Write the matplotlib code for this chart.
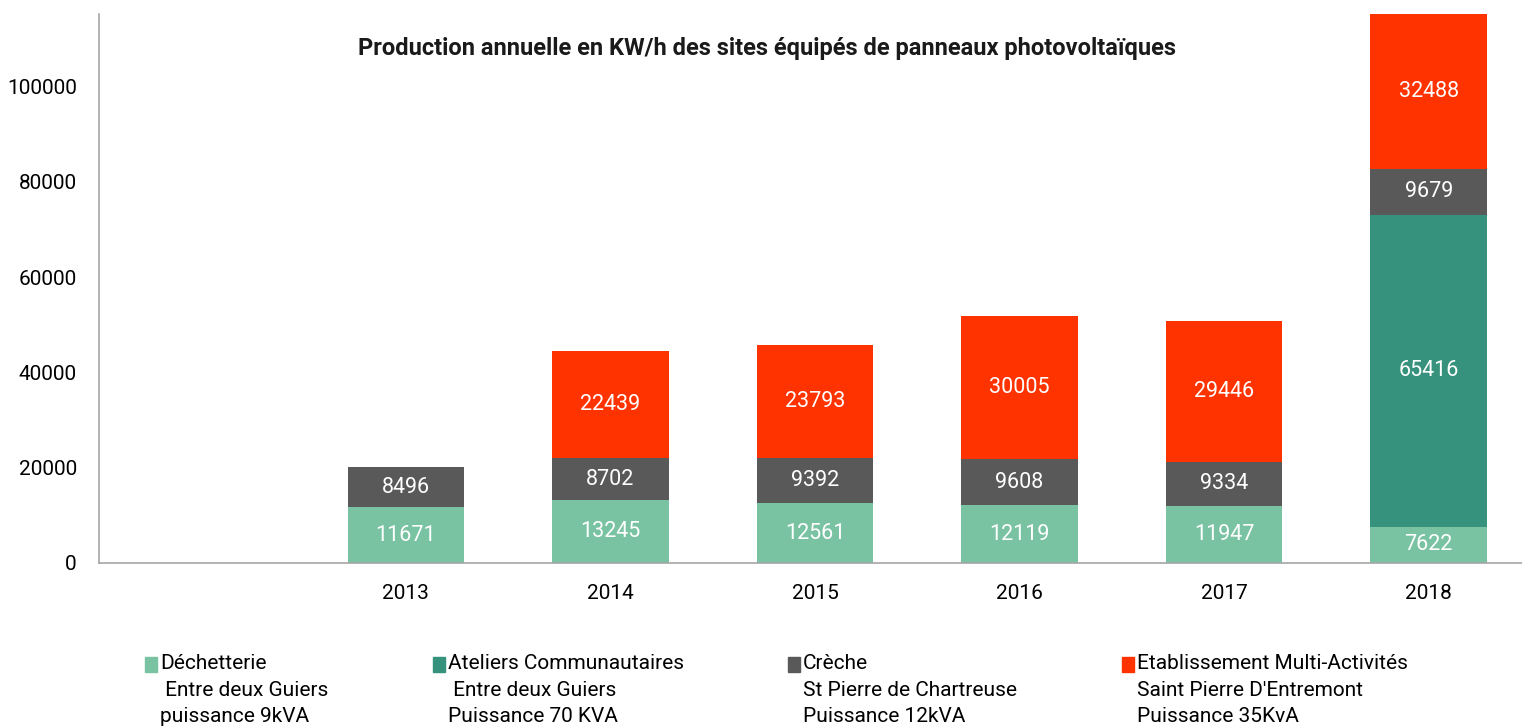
import matplotlib
matplotlib.use('Agg')
import matplotlib.pyplot as plt
from matplotlib.patches import Rectangle

# Données
annees = ['', '2013', '2014', '2015', '2016', '2017', '2018']
dechetterie = [0, 11671, 13245, 12561, 12119, 11947, 7622]
ateliers = [0, 0, 0, 0, 0, 0, 65416]
creche = [0, 8496, 8702, 9392, 9608, 9334, 9679]
etablissement = [0, 0, 22439, 23793, 30005, 29446, 32488]

series = [dechetterie, ateliers, creche, etablissement]
couleurs = ['#79C3A3', '#36927C', '#595959', '#FF3300']
legendes = [
    "Déchetterie\n Entre deux Guiers\npuissance 9kVA",
    "Ateliers Communautaires\n Entre deux Guiers\nPuissance 70 KVA",
    "Crèche\nSt Pierre de Chartreuse\nPuissance 12kVA",
    "Etablissement Multi-Activités\nSaint Pierre D'Entremont\nPuissance 35KvA",
]
titre = 'Production annuelle en KW/h des sites équipés de panneaux photovoltaïques'

plt.rcParams['font.family'] = ['Roboto', 'DejaVu Sans']

W, H = 1522, 728
fig = plt.figure(figsize=(W / 100, H / 100), dpi=100)
ax = fig.add_axes([99 / W, 1 - 563 / H, (1531 - 99) / W, (563 - 14) / H])

x = list(range(len(annees)))
bas = [0] * len(annees)
for vals, coul in zip(series, couleurs):
    ax.bar(x, vals, width=0.57, bottom=bas, color=coul, linewidth=0)
    for xi, v, b in zip(x, vals, bas):
        if v > 0:
            ax.text(xi, b + v / 2, str(v), ha='center', va='center',
                    color='white', fontsize=15.5)
    bas = [b + v for b, v in zip(bas, vals)]

ax.set_xlim(-0.5, len(annees) - 0.5)
ax.set_ylim(0, max(bas))
ax.set_yticks(range(0, 100001, 20000))
ax.set_xticks(x)
ax.set_xticklabels(annees)
ax.tick_params(axis='both', length=0, labelsize=15, colors='black')
ax.tick_params(axis='x', pad=15)
ax.tick_params(axis='y', pad=16)
for s in ['top', 'right']:
    ax.spines[s].set_visible(False)
for s in ['left', 'bottom']:
    ax.spines[s].set_color('#A6A6A6')
    ax.spines[s].set_linewidth(1.2)

fig.text(767 / W, 1 - 49 / H, titre, ha='center', va='center',
         fontsize=17, fontweight='bold', color='#1a1a1a')

# légende en bas
pos_x = [145, 433, 788, 1122]
for px, lab, coul in zip(pos_x, legendes, couleurs):
    fig.add_artist(Rectangle((px / W, 1 - 672 / H), 12 / W, 15 / H,
                             transform=fig.transFigure, color=coul))
    fig.text((px + 15) / W, 1 - 654 / H, lab, ha='left', va='top',
             fontsize=15, linespacing=1.5)

fig.savefig('out.png', dpi=100)
